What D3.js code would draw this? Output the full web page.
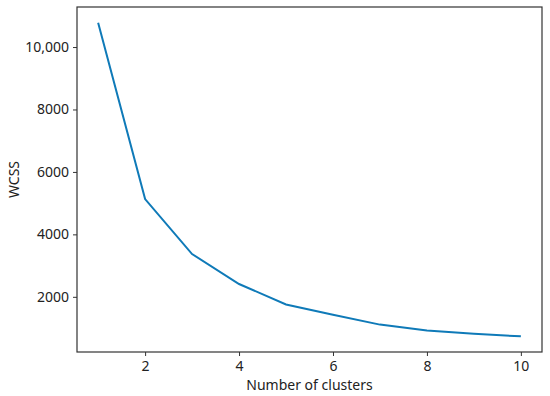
<!DOCTYPE html>
<html>
<head>
<meta charset="utf-8">
<script src="https://cdn.jsdelivr.net/npm/d3@7"></script>
<style>
  body { margin: 0; background: #fff; }
  svg text { font-family: "Noto Sans", "Open Sans", sans-serif; fill: #222; }
</style>
</head>
<body>
<div id="chart"></div>
<script>
// Data
let clusters = [1, 2, 3, 4, 5, 6, 7, 8, 9, 10];
let wcss = [10780, 5130, 3370, 2410, 1755, 1425, 1110, 920, 815, 735];
let xTicks = [2, 4, 6, 8, 10];
let yTicks = [2000, 4000, 6000, 8000, 10000];

let margin = {top: 7, right: 8, bottom: 44, left: 77},
    width = 550 - margin.left - margin.right,
    height = 396 - margin.top - margin.bottom;

let svg = d3.select("#chart").append("svg")
    .attr("width", 550)
    .attr("height", 396)
    .append("g")
    .attr("transform", "translate(" + margin.left + "," + margin.top + ")");

// matplotlib style 5% padding around the data
let xPad = (d3.max(clusters) - d3.min(clusters)) * 0.05;
let yPad = (d3.max(wcss) - d3.min(wcss)) * 0.05;

let x = d3.scaleLinear()
    .domain([d3.min(clusters) - xPad, d3.max(clusters) + xPad])
    .range([0, width]);

let y = d3.scaleLinear()
    .domain([d3.min(wcss) - yPad, d3.max(wcss) + yPad])
    .range([height, 0]);

let fmt = d => d >= 10000 ? d3.format(",")(d) : d3.format("d")(d);

let xAxis = svg.append("g")
    .attr("transform", "translate(0," + height + ")")
    .call(d3.axisBottom(x).tickValues(xTicks).tickSize(4).tickPadding(5));

let yAxis = svg.append("g")
    .call(d3.axisLeft(y).tickValues(yTicks).tickFormat(fmt).tickSize(4).tickPadding(4));

[xAxis, yAxis].forEach(a => {
    a.select(".domain").remove();
    a.selectAll("line").attr("stroke", "#333");
    a.selectAll("text").style("font-size", "14px").attr("fill", "#1a1a1a");
});

// Frame
svg.append("rect")
    .attr("width", width)
    .attr("height", height)
    .attr("fill", "none")
    .attr("stroke", "#333")
    .attr("stroke-width", 1.2);

// Line
let line = d3.line()
    .x((d, i) => x(clusters[i]))
    .y(d => y(d));

svg.append("path")
    .datum(wcss)
    .attr("fill", "none")
    .attr("stroke", "#0f7ab8")
    .attr("stroke-width", 2)
    .attr("d", line);

// Axis titles
svg.append("text")
    .attr("x", width / 2)
    .attr("y", height + 38)
    .attr("text-anchor", "middle")
    .style("font-size", "14px")
    .attr("fill", "#1a1a1a")
    .text("Number of clusters");

svg.append("text")
    .attr("transform", "rotate(-90)")
    .attr("x", -height / 2)
    .attr("y", -58)
    .attr("text-anchor", "middle")
    .style("font-size", "14px")
    .attr("fill", "#1a1a1a")
    .text("WCSS");
</script>
</body>
</html>
